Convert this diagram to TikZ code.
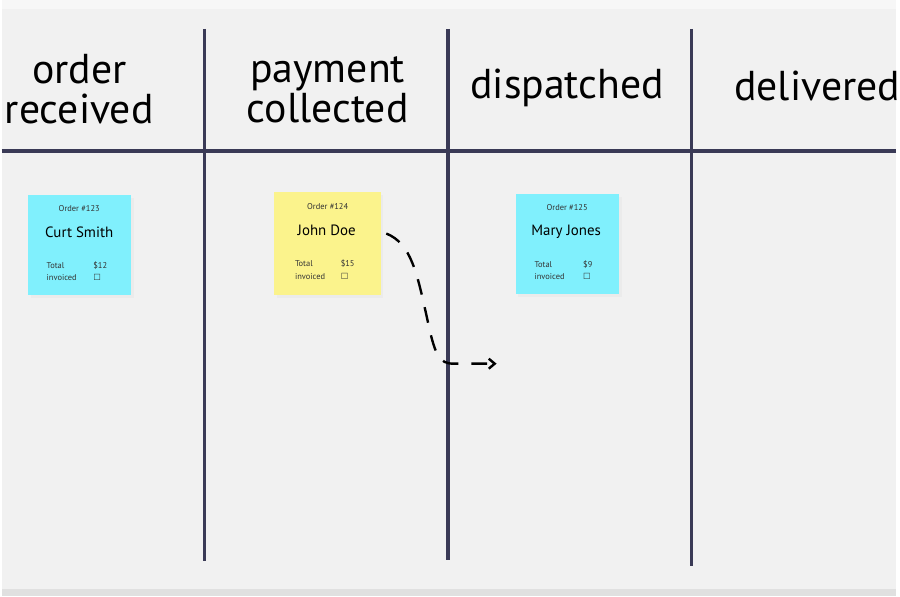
\documentclass[tikz,border=0pt]{standalone}
\usepackage{fontspec}
\setmainfont{PT Sans}
\newfontfamily\symfont{DejaVu Sans}
\usetikzlibrary{arrows.meta}
\definecolor{bg}{HTML}{F1F1F1}
\definecolor{rule}{HTML}{3A3A56}
\definecolor{notecyan}{HTML}{80F0FD}
\definecolor{noteyellow}{HTML}{FBF38C}
\tikzset{
  x=1pt,y=-1pt,
  lane/.style={draw=rule,line width=3.5pt},
  header/.style={font=\fontsize{42}{40}\selectfont,align=center,text=black,inner sep=0pt},
  sticky/.style={inner sep=0pt,anchor=north west},
  smalltxt/.style={font=\fontsize{8.5}{9}\selectfont,inner sep=0pt,text=black!80},
  nametxt/.style={font=\fontsize{15}{16}\selectfont,inner sep=0pt},
  flow/.style={draw=black,line width=2.4pt,dash pattern=on 16pt off 13pt,-{Straight Barb[length=6pt,width=10pt]}}
}
\begin{document}
\begin{tikzpicture}
\fill[bg] (0,0) rectangle (900,600);
\fill[black!3] (0,0) rectangle (900,9);
\fill[black!12] (0,593) rectangle (900,600);
% lanes
\draw[lane] (0,152) -- (900,152);
\draw[lane] (204,29) -- (204,565);
\draw[lane] (449,29) -- (449,564);
\draw[lane] (694,29) -- (694,570);
% headers
\node[header] (h1) at (78,90) {order\\received};
\node[header] (h2) at (328,90) {payment\\collected};
\node[header] (h3) at (569,88) {dispatched};
\node[header,anchor=west] (h4) at (737,87) {delivered};
% notes
\fill[black!8] (29,199) rectangle (133,300);
\fill[black!8] (277,196) rectangle (384,300);
\fill[black!8] (520,198) rectangle (624,299);
\node[sticky,fill=notecyan,minimum width=104pt,minimum height=101pt] (n1) at (26,196) {};
\node[sticky,fill=noteyellow,minimum width=107pt,minimum height=104pt] (n2) at (274,193) {};
\node[sticky,fill=notecyan,minimum width=104pt,minimum height=101pt] (n3) at (517,195) {};
% note 1
\node[smalltxt] (n1a) at (78,210) {Order \#123};
\node[nametxt] (n1b) at (78,234) {Curt Smith};
\node[smalltxt,anchor=west] (n1c) at (45,267) {Total};
\node[smalltxt,anchor=west] (n1d) at (92,267) {\$12};
\node[smalltxt,anchor=west] (n1e) at (45,279) {invoiced};
\node[smalltxt,anchor=west] (n1f) at (92,279) {\symfont ☐};
% note 2
\node[smalltxt] (n2a) at (328,208) {Order \#124};
\node[nametxt] (n2b) at (327,232) {John Doe};
\node[smalltxt,anchor=west] (n2c) at (295,265) {Total};
\node[smalltxt,anchor=west] (n2d) at (341,265) {\$15};
\node[smalltxt,anchor=west] (n2e) at (295,278) {invoiced};
\node[smalltxt,anchor=west] (n2f) at (341,278) {\symfont ☐};
% note 3
\node[smalltxt] (n3a) at (569,209) {Order \#125};
\node[nametxt] (n3b) at (568,233) {Mary Jones};
\node[smalltxt,anchor=west] (n3c) at (536,266) {Total};
\node[smalltxt,anchor=west] (n3d) at (585,266) {\$9};
\node[smalltxt,anchor=west] (n3e) at (536,278) {invoiced};
\node[smalltxt,anchor=west] (n3f) at (585,278) {\symfont ☐};
% flow arrow
\coordinate (s) at (387,235);
\coordinate (t) at (498,366);
\draw[flow] (s) .. controls (412,245) and (418,275) .. (428,320)
  .. controls (436,358) and (440,366) .. (455,366) -- (t);
\end{tikzpicture}
\end{document}
